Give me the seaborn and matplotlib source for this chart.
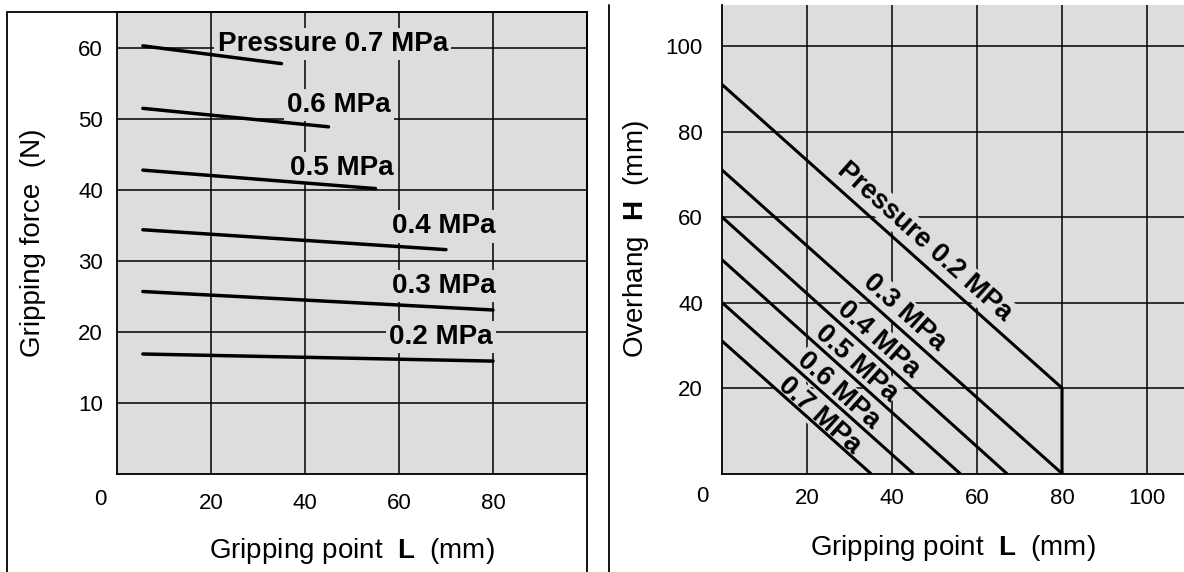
import numpy as np
import pandas as pd
import matplotlib
matplotlib.use("Agg")
import matplotlib.pyplot as plt
from matplotlib.patches import Rectangle
from matplotlib.lines import Line2D
import seaborn as sns

# ---- data ----
# left: gripping force vs gripping point
force_labels = ["Pressure 0.7 MPa", "0.6 MPa", "0.5 MPa", "0.4 MPa", "0.3 MPa", "0.2 MPa"]
force_L_start = [5.5, 5.5, 5.5, 5.5, 5.5, 5.5]
force_L_end = [35, 45, 55, 70, 80, 80]
force_start = [60.3, 51.5, 42.8, 34.4, 25.7, 16.9]
force_end = [57.8, 48.9, 40.2, 31.6, 23.1, 15.9]
force_label_x = [45.9, 47.2, 47.8, 69.6, 69.6, 68.9]
force_label_y = [59.6, 51.0, 42.1, 33.9, 25.5, 18.3]

# right: overhang vs gripping point
hang_labels = ["Pressure 0.2 MPa", "0.3 MPa", "0.4 MPa", "0.5 MPa", "0.6 MPa", "0.7 MPa"]
hang_L = [[0, 80, 80], [0, 80], [0, 67], [0, 56], [0, 45], [0, 35]]
hang_H = [[91, 20, 0], [71, 0], [60, 0], [50, 0], [40, 0], [31, 0]]
hang_label_x = [47.6, 43.0, 36.7, 31.6, 27.3, 23.0]
hang_label_y = [54.3, 37.7, 31.4, 25.8, 19.4, 13.6]

left_xticks = [20, 40, 60, 80]
left_yticks = [10, 20, 30, 40, 50, 60]
right_xticks = [20, 40, 60, 80, 100]
right_yticks = [20, 40, 60, 80, 100]

sns.set_style("white")
plt.rcParams["font.family"] = ["Liberation Sans", "DejaVu Sans"]
plt.rcParams["mathtext.fontset"] = "custom"
plt.rcParams["mathtext.rm"] = "Liberation Sans"
plt.rcParams["mathtext.bf"] = "Liberation Sans:bold"
for key in ["text.color", "axes.labelcolor", "xtick.color", "ytick.color",
            "xtick.labelcolor", "ytick.labelcolor"]:
    plt.rcParams[key] = "black"

GREY = "#dddddd"
W, H = 1184, 572
fig = plt.figure(figsize=(W / 100, H / 100), dpi=100)

# panel frames
fig.add_artist(Rectangle((7 / W, -0.05), 580 / W, 1.05 - 12 / H, transform=fig.transFigure,
                         fill=False, edgecolor="black", lw=1.3))
fig.add_artist(Line2D([609 / W, 609 / W], [0, 1 - 5 / H], transform=fig.transFigure,
                      color="black", lw=1.3))

ax1 = fig.add_axes([117 / W, (H - 474) / H, 470 / W, 462 / H])
ax2 = fig.add_axes([722 / W, (H - 473.5) / H, 462 / W, 468.5 / H])

for ax in (ax1, ax2):
    ax.set_facecolor(GREY)
    ax.set_axisbelow(True)
    ax.grid(True, color="black", lw=1.1)
    ax.tick_params(length=0, labelsize=16, labelcolor="black")
    for s in ax.spines.values():
        s.set_color("black")
        s.set_linewidth(1.3)

# ---- left chart ----
for i, lab in enumerate(force_labels):
    d = pd.DataFrame({"L": [force_L_start[i], force_L_end[i]],
                      "F": [force_start[i], force_end[i]]})
    sns.lineplot(data=d, x="L", y="F", color="black", lw=2.5, estimator=None,
                 sort=False, ax=ax1, zorder=4)
    ax1.text(force_label_x[i], force_label_y[i], lab, ha="center", va="baseline",
             fontsize=20, fontweight="bold", color="black", zorder=3,
             bbox=dict(facecolor=GREY, edgecolor="none", pad=2.5))

ax1.set_xlim(0, 100)
ax1.set_ylim(0, 65.07)
ax1.set_xticks(left_xticks)
ax1.set_yticks(left_yticks)
ax1.tick_params(axis="x", pad=13.5)
ax1.tick_params(axis="y", pad=10)
ax1.set_xlabel("Gripping point  $\\mathbf{L}$  (mm)", fontsize=20, color="black")
ax1.set_ylabel("Gripping force  (N)", fontsize=20, color="black")
ax1.xaxis.set_label_coords(0.5, -0.134)
ax1.yaxis.set_label_coords(-0.150, 0.5)
ax1.text(-0.036, -0.056, "0", transform=ax1.transAxes, ha="center", va="center",
         fontsize=16, color="black")

# ---- right chart ----
for i, lab in enumerate(hang_labels):
    d = pd.DataFrame({"L": hang_L[i], "H": hang_H[i]})
    sns.lineplot(data=d, x="L", y="H", color="black", lw=2.2, estimator=None,
                 sort=False, ax=ax2, zorder=4)
    ax2.text(hang_label_x[i], hang_label_y[i], lab, ha="center", va="center",
             rotation=-41.8, rotation_mode="anchor", fontsize=19.5, fontweight="bold",
             color="black", zorder=3, bbox=dict(facecolor=GREY, edgecolor="none", pad=1))

ax2.set_xlim(0, 108.7)
ax2.set_ylim(0, 109.6)
ax2.set_xticks(right_xticks)
ax2.set_yticks(right_yticks)
ax2.spines["top"].set_visible(False)
ax2.spines["right"].set_visible(False)
ax2.tick_params(axis="x", pad=10.5)
ax2.tick_params(axis="y", pad=13.7)
ax2.set_xlabel("Gripping point  $\\mathbf{L}$  (mm)", fontsize=20, color="black")
ax2.set_ylabel("Overhang  $\\mathbf{H}$  (mm)", fontsize=20, color="black")
ax2.xaxis.set_label_coords(0.5, -0.127)
ax2.yaxis.set_label_coords(-0.153, 0.5)
ax2.text(-0.043, -0.05, "0", transform=ax2.transAxes, ha="center", va="center",
         fontsize=16, color="black")

fig.savefig("out.png", dpi=100)
